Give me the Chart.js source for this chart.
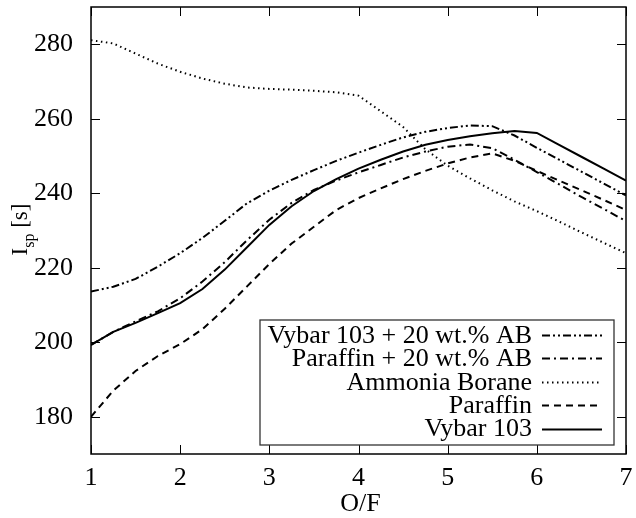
<!DOCTYPE html>
<html><head><meta charset="utf-8">
<script src="https://cdn.jsdelivr.net/npm/chart.js@4/dist/chart.umd.min.js"></script>
<style>html,body{margin:0;padding:0;background:#fff;}canvas{display:block;}</style>
</head><body>
<canvas id="c" width="636" height="518"></canvas>
<script>
// ---- data ----
const ofRatio = [1,1.25,1.5,1.75,2,2.25,2.5,2.75,3,3.25,3.5,3.75,4,4.25,4.5,4.75,5,5.25,5.5,5.75,6,6.25,6.5,6.75,7];
const vybarAB = [213.6,214.9,217,220.3,223.9,228,232.6,237.3,240.7,243.6,246.2,248.7,250.9,253,255,256.5,257.5,258.2,258,255.5,252.2,249,245.8,242.6,239.4];
const paraffinAB = [199.3,202.8,205.6,208.3,211.8,216.3,221.5,227.4,232.9,237.4,240.9,243.4,245.6,247.6,249.6,251.2,252.5,253.1,252.1,249,245.7,242.4,239,235.8,232.5];
const ammoniaBorane = [281.1,280.2,277.5,274.8,272.6,270.8,269.4,268.4,268,267.8,267.5,267.1,266.2,262,257.8,251.8,247.4,244,240.8,237.8,235.2,232.4,229.5,226.7,223.9];
const paraffin = [180,187,192.3,196.3,199.5,203.5,209,215,221,226.5,231,235.5,238.7,241.3,243.8,246,248,249.6,250.7,248.7,246,243.4,240.8,238.2,235.5];
const vybar103 = [199.3,202.8,205.2,207.8,210.5,214.3,219.5,225.5,231.5,236.5,240.6,243.8,246.6,249,251.2,253,254.3,255.3,256.1,256.7,256.2,253,249.8,246.6,243.4];
const seriesNames = ['Vybar 103 + 20 wt.% AB','Paraffin + 20 wt.% AB','Ammonia Borane','Paraffin','Vybar 103'];
const xTicks = [1,2,3,4,5,6,7];
const yTicks = [180,200,220,240,260,280];
const xTitle = 'O/F';
const yTitleMain = 'I', yTitleSub = 'sp', yTitleRest = ' [s]';

const FONT = 'Liberation Serif, Times New Roman, serif';
const FS = 26;
Chart.defaults.font.family = FONT;
Chart.defaults.color = '#000';

const pts = vals => ofRatio.map((x, i) => ({x, y: vals[i]}));
const styles = [
  {borderDash: [8,3,2,3,2,3]},
  {borderDash: [8,4,2,4]},
  {borderDash: [1.5,3.5]},
  {borderDash: [7,5]},
  {borderDash: []}
];
const seriesVals = [vybarAB, paraffinAB, ammoniaBorane, paraffin, vybar103];
const datasets = seriesNames.map((name, i) => ({
  label: name,
  data: pts(seriesVals[i]),
  borderColor: '#000',
  borderWidth: 2,
  borderDash: styles[i].borderDash,
  pointRadius: 0,
  tension: 0,
  fill: false
}));

const framePlugin = {
  id: 'frame',
  afterDatasetsDraw(chart) {
    const {ctx, chartArea: a, scales: {x, y}} = chart;
    ctx.save();
    ctx.strokeStyle = '#000';
    ctx.lineWidth = 1;
    const tl = 9;
    ctx.beginPath();
    xTicks.forEach(v => {
      const px = Math.round(x.getPixelForValue(v)) + 0.5;
      ctx.moveTo(px, a.bottom); ctx.lineTo(px, a.bottom - tl);
      ctx.moveTo(px, a.top); ctx.lineTo(px, a.top + tl);
    });
    yTicks.forEach(v => {
      const py = Math.round(y.getPixelForValue(v)) + 0.5;
      ctx.moveTo(a.left, py); ctx.lineTo(a.left + tl, py);
      ctx.moveTo(a.right, py); ctx.lineTo(a.right - tl, py);
    });
    ctx.stroke();
    ctx.lineWidth = 1.5;
    ctx.strokeRect(a.left, a.top, a.right - a.left, a.bottom - a.top);

    // legend box (text right-aligned, sample on the right)
    const lx0 = 260, ly0 = 320, lx1 = 614, ly1 = 445;
    ctx.fillStyle = '#fff';
    ctx.fillRect(lx0, ly0, lx1 - lx0, ly1 - ly0);
    ctx.strokeStyle = '#333';
    ctx.lineWidth = 1.3;
    ctx.strokeRect(lx0, ly0, lx1 - lx0, ly1 - ly0);
    ctx.font = FS + 'px ' + FONT;
    ctx.fillStyle = '#000';
    ctx.textAlign = 'right';
    ctx.textBaseline = 'middle';
    const rowY0 = 335, rowStep = 23.4;
    chart.data.datasets.forEach((ds, i) => {
      const ry = rowY0 + i * rowStep;
      ctx.fillText(ds.label, 532, ry + 1);
      ctx.save();
      ctx.strokeStyle = ds.borderColor;
      ctx.lineWidth = ds.borderWidth;
      ctx.setLineDash(ds.borderDash);
      ctx.beginPath();
      ctx.moveTo(542, Math.round(ry) + 0.5);
      ctx.lineTo(602, Math.round(ry) + 0.5);
      ctx.stroke();
      ctx.restore();
    });

    // x axis title
    ctx.textAlign = 'center';
    ctx.textBaseline = 'middle';
    ctx.font = FS + 'px ' + FONT;
    ctx.fillText(xTitle, (a.left + a.right) / 2 + 2, 504);

    // y axis title with subscript, rotated
    ctx.save();
    ctx.translate(27, (a.top + a.bottom) / 2 - 1);
    ctx.rotate(-Math.PI / 2);
    ctx.textBaseline = 'alphabetic';
    ctx.textAlign = 'left';
    const mainF = '23px ' + FONT, subF = '16px ' + FONT;
    ctx.font = mainF; const w1 = ctx.measureText(yTitleMain).width;
    ctx.font = subF; const w2 = ctx.measureText(yTitleSub).width;
    ctx.font = mainF; const w3 = ctx.measureText(yTitleRest).width;
    let cx = -(w1 + w2 + w3) / 2;
    ctx.font = mainF; ctx.fillText(yTitleMain, cx, 0); cx += w1;
    ctx.font = subF; ctx.fillText(yTitleSub, cx, 7); cx += w2;
    ctx.font = mainF; ctx.fillText(yTitleRest, cx, 0);
    ctx.restore();

    ctx.restore();
  }
};

new Chart(document.getElementById('c'), {
  type: 'line',
  data: {datasets},
  options: {
    responsive: false,
    devicePixelRatio: 1,
    animation: false,
    layout: {padding: {top: 7, right: 10, left: 0, bottom: 0}},
    plugins: {legend: {display: false}, tooltip: {enabled: false}},
    scales: {
      x: {
        type: 'linear', min: 1, max: 7,
        afterBuildTicks: s => { s.ticks = xTicks.map(v => ({value: v})); },
        afterFit: s => { s.height = 64; s.paddingLeft = 0; s.paddingRight = 0; },
        grid: {display: false},
        border: {display: false},
        ticks: {font: {size: FS}, color: '#000', padding: 1, maxRotation: 0, autoSkip: false}
      },
      y: {
        type: 'linear', min: 170, max: 290,
        afterBuildTicks: s => { s.ticks = yTicks.map(v => ({value: v})); },
        afterFit: s => { s.width = 91; s.paddingTop = 0; s.paddingBottom = 0; },
        grid: {display: false},
        border: {display: false},
        ticks: {font: {size: FS}, color: '#000', padding: 10, autoSkip: false}
      }
    }
  },
  plugins: [framePlugin]
});
</script>
</body></html>
